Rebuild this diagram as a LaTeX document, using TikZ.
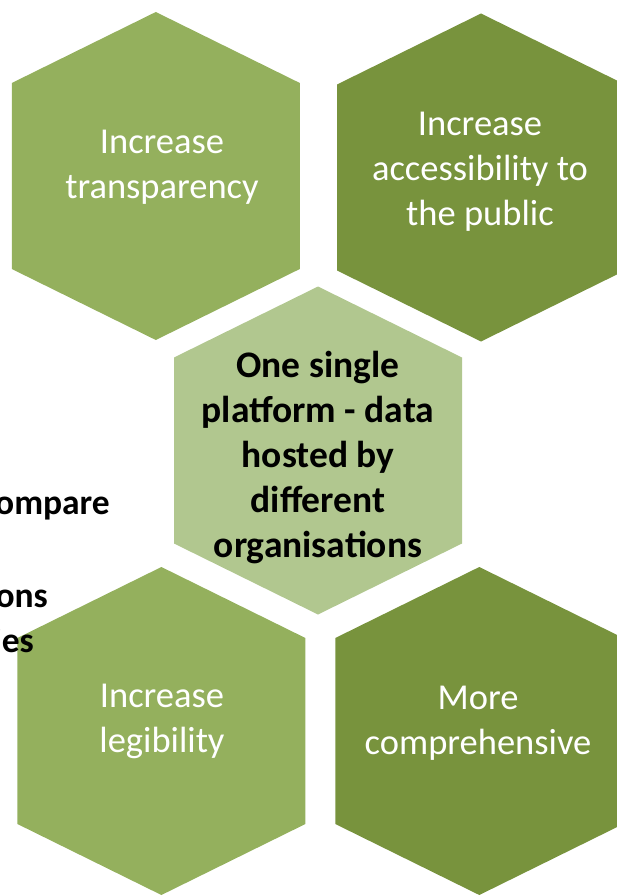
\documentclass[tikz,border=0pt]{standalone}
\usepackage{fontspec}
\setmainfont{Carlito}
\definecolor{hexlight}{HTML}{94B05D}
\definecolor{hexdark}{HTML}{78933D}
\definecolor{hexpale}{HTML}{B1C78F}
\tikzset{
  hexagon/.pic={\fill (0,-164) -- (144,-93) -- (144,93) -- (0,164) -- (-144,93) -- (-144,-93) -- cycle;},
  hexlabel/.style={text=white, font=\fontsize{36.5}{45}\selectfont, align=center, inner sep=0pt},
  centrelabel/.style={text=black, font=\bfseries\fontsize{37.5}{45}\selectfont, align=center, inner sep=0pt},
  sidetext/.style={text=black, font=\bfseries\fontsize{35.5}{44}\selectfont, inner sep=0pt, anchor=base east}
}
\begin{document}
\begin{tikzpicture}[x=1pt,y=-1pt]
\useasboundingbox (0,0) rectangle (617,896);
\clip (0,0) rectangle (617,896);
% hexagons
\pic[fill=hexlight] at (155.8,176) {hexagon};
\pic[fill=hexdark] at (481,177.5) {hexagon};
\pic[fill=hexpale] at (318,450.5) {hexagon};
\pic[fill=hexlight] at (161.4,731) {hexagon};
\pic[fill=hexdark] at (479.3,731) {hexagon};
% labels
\node[hexlabel] (tl) at (162,167) {Increase\\transparency};
\node[hexlabel] (tr) at (480,172) {Increase\\accessibility to\\the public};
\node[centrelabel] (c) at (318,458) {One single\\platform - data\\hosted by\\different\\organisations};
\node[hexlabel] (bl) at (162,721) {Increase\\legibility};
\node[hexlabel] (br) at (478,723) {More\\comprehensive};
% cut-off text at the left edge
\node[sidetext] (s1) at (110,514) {ompare};
\node[sidetext] (s2) at (48,607) {ons};
\node[sidetext] (s3) at (34,652) {ies};
\end{tikzpicture}
\end{document}
